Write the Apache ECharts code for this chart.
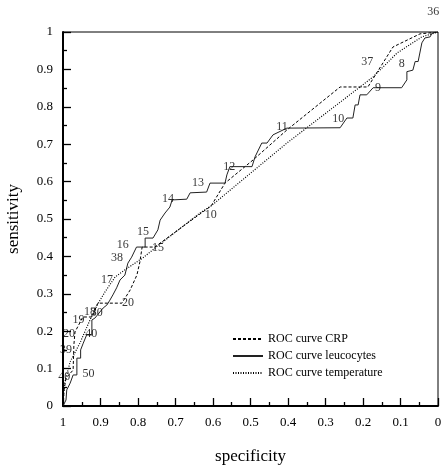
<!DOCTYPE html>
<html>
<head>
<meta charset="utf-8">
<script src="https://cdn.jsdelivr.net/npm/echarts@6/dist/echarts.min.js"></script>
<style>
  html, body { margin: 0; padding: 0; background: #fff; }
  #chart { width: 442px; height: 468px; }
</style>
</head>
<body>
<div id="chart"></div>
<script>
// ROC curves: specificity (x, running 1 → 0) against sensitivity (y)
const crpSpec  = [1.000, 0.997, 0.992, 0.973, 0.971, 0.968, 0.947, 0.923, 0.907, 0.843, 0.821, 0.803, 0.795, 0.789, 0.755, 0.675, 0.605, 0.568, 0.493, 0.403, 0.261, 0.187, 0.120, 0.048, 0.000];
const crpSens  = [0.000, 0.043, 0.075, 0.096, 0.163, 0.198, 0.238, 0.238, 0.275, 0.275, 0.310, 0.350, 0.385, 0.425, 0.425, 0.484, 0.535, 0.596, 0.658, 0.738, 0.853, 0.853, 0.960, 0.995, 1.000];

const leuSpec  = [1.000, 0.997, 0.992, 0.990, 0.981, 0.973, 0.963, 0.963, 0.953, 0.953, 0.946, 0.937, 0.923, 0.923, 0.915, 0.893, 0.883, 0.875, 0.867, 0.857, 0.848, 0.835, 0.827, 0.817, 0.804, 0.781, 0.781, 0.760, 0.747, 0.741, 0.728, 0.715, 0.709, 0.670, 0.661, 0.617, 0.608, 0.568, 0.563, 0.555, 0.496, 0.488, 0.470, 0.456, 0.440, 0.403, 0.261, 0.243, 0.227, 0.221, 0.213, 0.208, 0.190, 0.173, 0.097, 0.083, 0.083, 0.067, 0.061, 0.053, 0.043, 0.035, 0.021, 0.016, 0.000];
const leuSens  = [0.000, 0.003, 0.016, 0.043, 0.061, 0.083, 0.083, 0.128, 0.128, 0.150, 0.168, 0.190, 0.190, 0.230, 0.235, 0.262, 0.270, 0.283, 0.297, 0.316, 0.337, 0.350, 0.382, 0.398, 0.425, 0.425, 0.449, 0.449, 0.471, 0.497, 0.516, 0.532, 0.551, 0.553, 0.570, 0.572, 0.596, 0.596, 0.618, 0.640, 0.640, 0.666, 0.703, 0.703, 0.725, 0.743, 0.744, 0.770, 0.770, 0.805, 0.805, 0.832, 0.832, 0.851, 0.851, 0.872, 0.894, 0.898, 0.921, 0.921, 0.971, 0.984, 0.987, 0.997, 1.000];

const tempSpec = [1.000, 0.997, 0.992, 0.981, 0.955, 0.928, 0.909, 0.888, 0.861, 0.835, 0.787, 0.755, 0.635, 0.605, 0.403, 0.173, 0.109, 0.043, 0.000];
const tempSens = [0.000, 0.056, 0.075, 0.118, 0.168, 0.230, 0.270, 0.305, 0.345, 0.364, 0.396, 0.422, 0.516, 0.535, 0.703, 0.880, 0.944, 0.987, 1.000];

// Cut-off annotations along the curves
const cutTexts = ['50', '40', '30', '20', '15', '10',
                  '20', '19', '18', '17', '16', '15', '14', '13', '12', '11', '10', '9', '8',
                  '40', '39', '38', '37', '36'];
const cutSpec  = [0.932, 0.925, 0.910, 0.827, 0.747, 0.606,
                  0.984, 0.959, 0.928, 0.883, 0.841, 0.787, 0.720, 0.640, 0.557, 0.416, 0.266, 0.160, 0.097,
                  0.997, 0.992, 0.856, 0.189, 0.013];
const cutSens  = [0.087, 0.194, 0.248, 0.275, 0.422, 0.511,
                  0.194, 0.230, 0.252, 0.337, 0.430, 0.466, 0.553, 0.596, 0.639, 0.746, 0.769, 0.852, 0.916,
                  0.078, 0.150, 0.396, 0.921, 1.053];

const xTicks = { min: 0, max: 1, step: 0.1 };
const yTicks = { min: 0, max: 1, step: 0.1 };

const FONT = 'Liberation Serif';
const zip = (a, b) => a.map((v, i) => [v, b[i]]);

const chart = echarts.init(document.getElementById('chart'), null, { renderer: 'canvas' });

function valueAxis(t, extra) {
  return Object.assign({
    type: 'value',
    min: t.min,
    max: t.max,
    interval: t.step,
    axisLine: { show: true, onZero: false, lineStyle: { color: '#000', width: 2 } },
    axisTick: { show: true, inside: true, length: 8, lineStyle: { color: '#000', width: 1.3 } },
    minorTick: { show: true, splitNumber: 2, length: 4, lineStyle: { color: '#000', width: 1.3 } },
    splitLine: { show: false },
    axisLabel: { color: '#000', fontFamily: FONT, fontSize: 13, margin: 10, formatter: v => String(+v.toFixed(1)) },
    nameTextStyle: { color: '#000', fontFamily: FONT, fontSize: 17 },
    nameLocation: 'middle'
  }, extra);
}

chart.setOption({
  animation: false,
  backgroundColor: '#fff',
  grid: {
    left: 63, right: 4, top: 32, bottom: 62,
    show: true, borderColor: '#000', borderWidth: 1,
    containLabel: false, outerBoundsMode: 'none'
  },
  xAxis: valueAxis(xTicks, { inverse: true, name: 'specificity', nameGap: 42 }),
  yAxis: valueAxis(yTicks, { name: 'sensitivity', nameGap: 41 }),
  legend: {
    orient: 'vertical',
    left: 227,
    top: 328,
    itemWidth: 30,
    itemHeight: 12,
    itemGap: 5,
    itemStyle: { opacity: 0 },
    textStyle: { color: '#000', fontFamily: FONT, fontSize: 12 },
    data: ['ROC curve CRP', 'ROC curve leucocytes', 'ROC curve temperature']
  },
  series: [
    {
      name: 'ROC curve CRP', type: 'line', symbol: 'none', z: 3,
      data: zip(crpSpec, crpSens),
      itemStyle: { color: '#000' },
      lineStyle: { color: '#000', width: 1, type: [3, 2] }
    },
    {
      name: 'ROC curve leucocytes', type: 'line', symbol: 'none', z: 3,
      data: zip(leuSpec, leuSens),
      itemStyle: { color: '#222' },
      lineStyle: { color: '#222', width: 1, type: 'solid' }
    },
    {
      name: 'ROC curve temperature', type: 'line', symbol: 'none', z: 3,
      data: zip(tempSpec, tempSens),
      itemStyle: { color: '#000' },
      lineStyle: { color: '#000', width: 1.2, type: [1, 1.5] }
    },
    {
      name: 'cut-offs', type: 'scatter', symbolSize: 0, silent: true, clip: false, z: 4,
      data: cutTexts.map((t, i) => ({ name: t, value: [cutSpec[i], cutSens[i]] })),
      label: { show: true, position: 'inside', formatter: '{b}', color: '#000', fontFamily: FONT, fontSize: 12 }
    }
  ]
});
</script>
</body>
</html>
